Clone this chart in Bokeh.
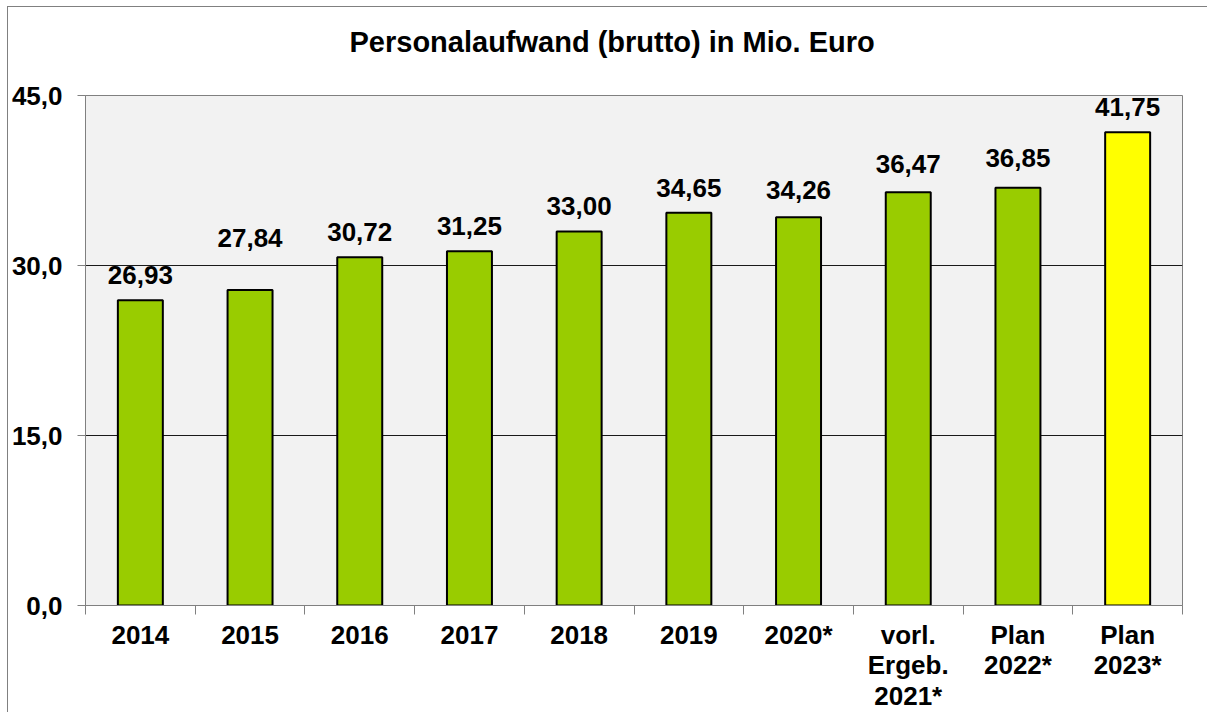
from bokeh.plotting import figure
from bokeh.models import ColumnDataSource, FixedTicker, LabelSet, Range1d
from bokeh.core.properties import value
from bokeh.embed import file_html
from bokeh.resources import INLINE

# ---- data ----
categories = ["2014", "2015", "2016", "2017", "2018", "2019", "2020*",
              "vorl.\nErgeb.\n2021*", "Plan\n2022*", "Plan\n2023*"]
values = [26.93, 27.84, 30.72, 31.25, 33.00, 34.65, 34.26, 36.47, 36.85, 41.75]
bar_colors = ["#99CC00"] * 9 + ["#FFFF00"]
y_ticks = [0, 15, 30, 45]
y_tick_labels = ["0,0", "15,0", "30,0", "45,0"]
title_text = "Personalaufwand (brutto) in Mio. Euro"

# ---- styles ----
FONT = "Liberation Sans"
FS = "26px"
label_lift = [25, 52, 25, 25, 26, 25, 27, 28, 30, 25]   # px above bar top

n = len(categories)
xs = list(range(n))
src = ColumnDataSource(dict(
    x=xs,
    value=values,
    color=bar_colors,
    vlabel=[f"{v:.2f}".replace(".", ",") for v in values],
    lift=label_lift,
))

W, H = 1200, 706
p = figure(width=W, height=H, output_backend="svg", toolbar_location=None,
           x_range=Range1d(-0.5, n - 0.5), y_range=Range1d(y_ticks[0], y_ticks[-1]),
           min_border_left=77, min_border_top=88, min_border_right=26, min_border_bottom=108)
p.styles = {"border-top": "1px solid #808080", "border-left": "1px solid #808080",
            "margin-left": "7px", "margin-top": "6px"}

p.background_fill_color = "#F2F2F2"
p.border_fill_color = "white"
p.outline_line_color = "#808080"
p.outline_line_width = 1

# title (second, empty line lifts it away from the plot area)
p.title.text = title_text + "\n"
p.title.align = "left"
p.title.offset = 264
p.title.standoff = 10
p.title.text_font = FONT
p.title.text_font_style = "bold"
p.title.text_font_size = "29px"
p.title.text_line_height = 1.03
p.title.text_color = "black"

# y axis
p.yaxis.ticker = FixedTicker(ticks=y_ticks)
p.yaxis.major_label_overrides = {t: l for t, l in zip(y_ticks, y_tick_labels)}
p.yaxis.major_label_text_font = FONT
p.yaxis.major_label_text_font_style = "bold"
p.yaxis.major_label_text_font_size = FS
p.yaxis.major_label_text_color = "black"
p.yaxis.major_label_standoff = 15
p.yaxis.axis_line_color = "#808080"
p.yaxis.major_tick_line_color = "#808080"
p.yaxis.major_tick_out = 8
p.yaxis.major_tick_in = 0
p.yaxis.minor_tick_line_color = None

# x axis: labels at category centres, ticks at category boundaries
p.xaxis.ticker = FixedTicker(ticks=xs, minor_ticks=[i - 0.5 for i in range(n + 1)])
p.xaxis.major_label_overrides = {i: c for i, c in zip(xs, categories)}
p.xaxis.major_label_text_font = FONT
p.xaxis.major_label_text_font_style = "bold"
p.xaxis.major_label_text_font_size = FS
p.xaxis.major_label_text_color = "black"
p.xaxis.major_label_text_line_height = 1.02
p.xaxis.major_label_standoff = 5
p.xaxis.axis_line_color = "#808080"
p.xaxis.minor_tick_line_color = "#808080"
p.xaxis.minor_tick_out = 9
p.xaxis.minor_tick_in = 0
p.xaxis.major_tick_line_color = None
p.xaxis.major_tick_out = 0
p.xaxis.major_tick_in = 0

# grid
p.xgrid.visible = False
p.ygrid.ticker = FixedTicker(ticks=y_ticks[1:-1])
p.ygrid.grid_line_color = "#1a1a1a"
p.ygrid.grid_line_width = 1

# bars
p.vbar(x="x", top="value", width=0.41, source=src, fill_color="color",
       line_color="black", line_width=2)

# value labels
p.add_layout(LabelSet(x="x", y="value", text="vlabel", source=src,
                      y_offset="lift", text_align="center", text_baseline="middle",
                      text_font=value(FONT), text_font_style="bold", text_font_size=value(FS),
                      text_color="black"))

open("out.html", "w").write(file_html(p, INLINE))
